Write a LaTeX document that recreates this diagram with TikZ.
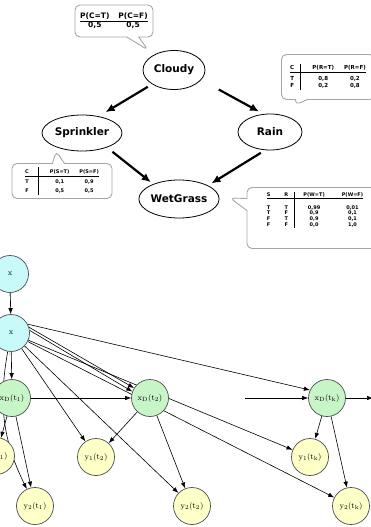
\documentclass[tikz,border=0pt]{standalone}
\usepackage{fontspec}
\newfontfamily\netfont{DejaVu Sans}
\usetikzlibrary{shapes.geometric,shapes.callouts,arrows.meta,backgrounds}

\definecolor{xfill}{RGB}{200,250,250}
\definecolor{dfill}{RGB}{200,245,200}
\definecolor{yfill}{RGB}{255,255,200}

\tikzset{
	bnode/.style={ellipse,draw=black,line width=0.8pt,fill=white,inner sep=0pt,
		font=\netfont\bfseries\fontsize{10.5}{12}\selectfont},
	cpt/.style={rectangle callout,draw=gray!70,line width=0.9pt,rounded corners=5pt,
		fill=white,inner sep=2pt,callout pointer width=12pt,
		font=\netfont\bfseries},
	bigarrow/.style={-{Latex[length=9pt,width=8pt]},line width=2.2pt},
	dbn/.style={circle,draw=black!70,line width=0.7pt,minimum size=37pt,inner sep=0pt,
		font=\fontsize{8}{9}\selectfont},
	xnode/.style={dbn,fill=xfill,label distance=-6.5pt},
	dnode/.style={dbn,fill=dfill},
	ynode/.style={dbn,fill=yfill},
	sublbl/.style={font=\fontsize{5}{5}\selectfont,text=gray,inner sep=0pt},
	edge/.style={-{Latex[length=6pt,width=4.5pt]},line width=0.6pt}
}
\tikzset{every picture/.style={line width=0.75pt}}

\begin{document}
\begin{tikzpicture}[x=1pt,y=1pt,yscale=-1]
	\useasboundingbox (0,0) rectangle (370,527);

	% Bayes net nodes
	\node[bnode,minimum width=62pt,minimum height=39pt] (cloudy) at (174,70) {Cloudy};
	\node[bnode,minimum width=80pt,minimum height=36pt] (sprinkler) at (82,133) {Sprinkler};
	\node[bnode,minimum width=64pt,minimum height=36pt] (rain) at (270,132) {Rain};
	\node[bnode,minimum width=72pt,minimum height=38pt] (wetgrass) at (179,199) {WetGrass};

	\draw[bigarrow,shorten <=5pt,shorten >=8pt] (cloudy.213) -- (sprinkler.45);
	\draw[bigarrow,shorten <=20pt,shorten >=5pt] (cloudy.340) -- (rain.110);
	\draw[bigarrow,shorten <=7pt,shorten >=3pt] (sprinkler.330) -- (wetgrass.150);
	\draw[bigarrow,shorten <=5pt,shorten >=4pt] (rain.255) -- (wetgrass.25);

	% CPT callouts
	\coordinate (ctip) at (148,50);
	\coordinate (rtip) at (295,105);
	\coordinate (stip) at (56,151);
	\coordinate (wtip) at (230,198);

	\node[cpt,minimum width=78pt,minimum height=32pt,callout absolute pointer={(ctip)}] (ctab) at (114,21)
	{\fontsize{7.5}{9}\selectfont
		\begin{tabular}{@{}c@{\hspace{9pt}}c@{}}P(C=T)&P(C=F)\\\hline 0,5&0,5\end{tabular}};
	\node[cpt,minimum width=93pt,minimum height=45pt,callout absolute pointer={(rtip)}] (rtab) at (328,77)
	{\fontsize{5.5}{7.5}\selectfont
		\begin{tabular}{@{}c@{\hspace{6pt}}|@{\hspace{12pt}}c@{\hspace{10pt}}c@{}}C&P(R=T)&P(R=F)\\\hline
			\rule{0pt}{8pt}T&0,8&0,2\\F&0,2&0,8\end{tabular}};
	\node[cpt,minimum width=100pt,minimum height=35pt,callout absolute pointer={(stip)}] (stab) at (62,181)
	{\fontsize{5}{9.3}\selectfont
		\begin{tabular}{@{}c@{\hspace{9pt}}|@{\hspace{12pt}}c@{\hspace{10pt}}c@{}}C&P(S=T)&P(S=F)\\\hline
			T&0,1&0,9\\F&0,5&0,5\end{tabular}};
	\node[cpt,minimum width=136pt,minimum height=61pt,callout absolute pointer={(wtip)}] (wtab) at (315,218)
	{\raisebox{8pt}[\height][\depth]{\fontsize{5}{5.6}\selectfont
		\begin{tabular}{@{}c@{\hspace{14pt}}c@{\hspace{6pt}}|@{\hspace{9pt}}c@{\hspace{17pt}}c@{}}S&R&P(W=T)&P(W=F)\\\hline
			\rule{0pt}{11pt}T&T&0,99&0,01\\T&F&0,9&0,1\\F&T&0,9&0,1\\F&F&0,0&1,0\end{tabular}}};

	% DBN nodes
	\node[xnode,label={[sublbl]below:T}] (xt) at (10,274) {x};
	\node[xnode,label={[sublbl]below:S}] (xs) at (11,333) {x};
	\node[dnode] (xd1) at (12,398) {x$_\mathrm{D}$(t$_1$)};
	\node[dnode] (xd2) at (150,398) {x$_\mathrm{D}$(t$_2$)};
	\node[dnode] (xdk) at (327,398) {x$_\mathrm{D}$(t$_\mathrm{k}$)};
	\node[ynode] (y1t1) at (-4,456) {y$_1$(t$_1$)};
	\node[ynode] (y2t1) at (35,506) {y$_2$(t$_1$)};
	\node[ynode] (y1t2) at (96,457) {y$_1$(t$_2$)};
	\node[ynode] (y2t2) at (192,506) {y$_2$(t$_2$)};
	\node[ynode] (y1tk) at (310,457) {y$_1$(t$_\mathrm{k}$)};
	\node[ynode] (y2tk) at (351,506) {y$_2$(t$_\mathrm{k}$)};
	\coordinate (kin) at (245,398);
	\coordinate (kout) at (373,398);

	\begin{scope}[on background layer]
		\draw[edge] (xt) -- (xs);
		\draw[edge] (xs) -- (xd1);
		\draw[edge] (xs.18) -- (xd2.148);
		\draw[edge] (xs.8) -- (xd2.160);
		\draw[edge] (xs.28) -- (xdk.155);
		\draw[edge] (xs) -- (y1tk);
		\draw[edge] (xs) -- (y2tk);
		\draw[edge] (xs) -- (y1t2);
		\draw[edge] (xs) -- (y2t2);
		\draw[edge] (xs) to[bend left=18] (y2t1);
		\draw[edge] (xd1) -- (y1t1);
		\draw[edge] (xd1) -- (y2t1);
		\draw[edge] (xd1) -- (xd2);
		\draw[edge] (xd2) -- (y1t2);
		\draw[edge] (xd2) -- (y2t2);
		\draw[edge] (kin) -- (xdk);
		\draw[edge] (xdk) -- (kout);
		\draw[edge] (xdk) -- (y1tk);
		\draw[edge] (xdk) -- (y2tk);
	\end{scope}
\end{tikzpicture}
\end{document}
